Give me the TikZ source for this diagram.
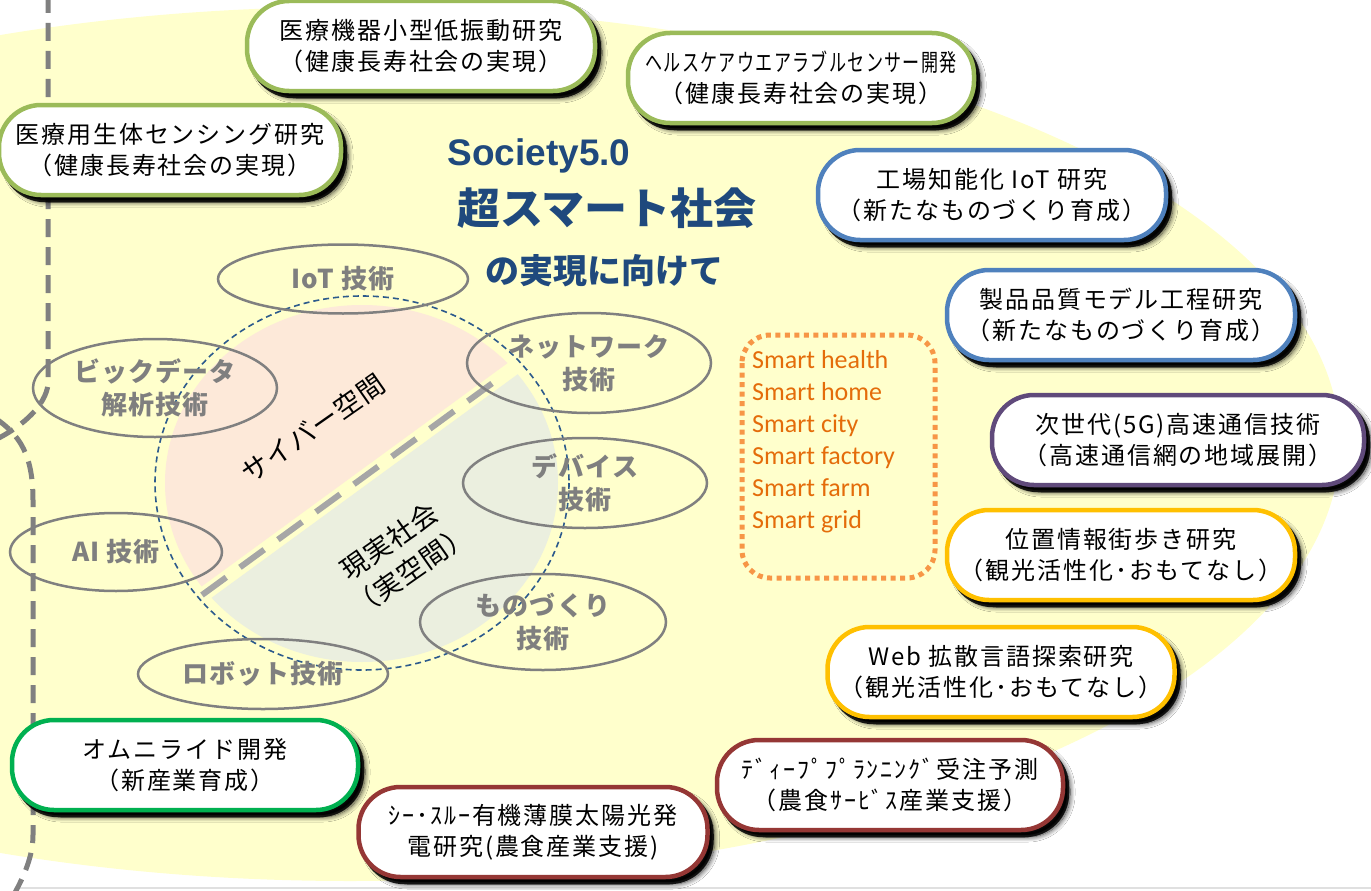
\documentclass[tikz,border=0pt]{standalone}
\usepackage{fontspec}
\setmainfont{Noto Sans CJK JP}
\newfontfamily\jp{Noto Sans CJK JP}
\newfontfamily\jpsp{Noto Sans CJK JP}[LetterSpace=8]
\newfontfamily\jptech{Noto Sans CJK JP}[LetterSpace=4]
\newfontfamily\calib{Carlito}
\newfontfamily\lat{Liberation Sans}
\usetikzlibrary{shapes.geometric,shadows.blur}
\definecolor{bgyellow}{HTML}{FFFFCC}
\definecolor{cgreen}{HTML}{9BBB59}
\definecolor{cblue}{HTML}{4F81BD}
\definecolor{cpurple}{HTML}{604A7B}
\definecolor{cgold}{HTML}{FFC000}
\definecolor{cred}{HTML}{953735}
\definecolor{cgreen2}{HTML}{00B050}
\definecolor{cnavy}{HTML}{1F497D}
\definecolor{corange}{HTML}{F79646}
\definecolor{corangetext}{HTML}{E46C0A}
\definecolor{cpink}{HTML}{FDE9D9}
\definecolor{cgreengray}{HTML}{EBEFDF}
\definecolor{cgray}{HTML}{808080}
\definecolor{ctechtext}{HTML}{7F7F7F}
\definecolor{cdiag}{HTML}{A6A6A6}
\definecolor{ccircle}{HTML}{2C5A8C}
\newcommand\boxfont{\jpsp\fontsize{24}{31}\selectfont}
\begin{document}
\begin{tikzpicture}[x=1pt,y=-1pt,
  pill/.style={draw=#1, line width=4.5pt, fill=white, rounded corners=42pt,
    minimum height=90pt, inner sep=0pt, align=center, font=\boxfont, text=black,
    blur shadow={shadow xshift=7pt,shadow yshift=-7pt,shadow blur radius=5pt,shadow opacity=80,shadow blur steps=12},
    preaction={draw=black, fill=black, line width=4.5pt, opacity=0.85, transform canvas={xshift=4pt,yshift=-5pt}}},
  tech/.style={ellipse, draw=cgray, line width=2.5pt, inner sep=0pt, align=center,
    text=ctechtext, font=\jptech\bfseries\fontsize{26}{33}\selectfont},
  leftdash/.style={cgray, line width=5pt, dash pattern=on 18pt off 10pt},
  title/.style={text=cnavy, inner sep=0pt}]
\useasboundingbox (0,0) rectangle (1371,891);
% background
\fill[white] (0,0) rectangle (1371,891);
\fill[bgyellow] (350,444) ellipse [x radius=990, y radius=437];
\draw[black!12, line width=1.5pt] (20,888) -- (1371,888);
% left dashed lines
\draw[leftdash] (48,-5) -- (48,385) .. controls (45,405) and (25,425) .. (-5,440);
\draw[leftdash] (-5,418) .. controls (20,435) and (33,455) .. (33,500) -- (33,835) .. controls (33,855) and (25,875) .. (12,898);
% central circle halves
\begin{scope}
  \clip (-125,825) -- (824,132) -- (471,-353) -- (-478,340) -- cycle;
  \fill[cpink] (362,483) ellipse [x radius=197, y radius=178];
\end{scope}
\begin{scope}
  \clip (-116,837) -- (833,144) -- (1186,629) -- (237,1322) -- cycle;
  \fill[cgreengray] (362,483) ellipse [x radius=196, y radius=179];
\end{scope}
\draw[ccircle, line width=1.6pt, dash pattern=on 6pt off 4pt] (362,483) ellipse [x radius=207, y radius=187];
\coordinate (d1) at (202,595);
\coordinate (d2) at (505,374);
\draw[cdiag, line width=6pt, dash pattern=on 30pt off 17pt] (d1) -- (d2);
\node[rotate=35, font=\jptech\fontsize{27}{34}\selectfont, text=black] (cyber) at (313,428) {サイバー空間};
\node[rotate=35, align=center, font=\jptech\fontsize{27}{36}\selectfont, text=black] (real) at (400,556) {現実社会\\（実空間）};
% technology ellipses
\node[tech, minimum width=250pt, minimum height=69pt] (iot) at (343,279) {IoT 技術};
\node[tech, minimum width=244pt, minimum height=98pt] (big) at (155,388) {ビックデータ\\解析技術};
\node[tech, minimum width=244pt, minimum height=100pt] (net) at (589,363) {ネットワーク\\技術};
\node[tech, minimum width=244pt, minimum height=90pt] (dev) at (585,483) {デバイス\\技術};
\node[tech, minimum width=212pt, minimum height=78pt] (ai) at (116,552) {AI 技術};
\node[tech, minimum width=246pt, minimum height=96pt] (mono) at (543,622) {ものづくり\\技術};
\node[tech, minimum width=250pt, minimum height=70pt] (robot) at (263,674) {ロボット技術};
% title
\node[title, anchor=base, font=\lat\bfseries\fontsize{37}{37}\selectfont] (soc) at (539,165) {Society5.0};
\node[title, font=\jp\bfseries\fontsize{43}{43}\selectfont] (chou) at (607,208) {超スマート社会};
\node[title, font=\jp\bfseries\fontsize{34}{34}\selectfont] (muke) at (604,271) {の実現に向けて};
% smart box
\draw[corange, line width=5pt, dash pattern=on 5pt off 4.5pt, rounded corners=28pt] (742,335) rectangle (935,578);
\node[anchor=north west, align=left, inner sep=0pt, text=corangetext, font=\calib\fontsize{26}{32}\selectfont] (smart) at (752,350)
  {Smart health\\Smart home\\Smart city\\Smart factory\\Smart farm\\Smart grid};
% project boxes
\node[pill=cgreen, minimum width=348pt] (b1) at (421,46) {医療機器小型低振動研究\\（健康長寿社会の実現）};
\node[pill=cgreen, minimum width=346pt] (b2) at (801,78) {\scalebox{0.71}[1]{ヘルスケアウエアラブルセンサー開発}\\（健康長寿社会の実現）};
\node[pill=cgreen, minimum width=342pt] (b3) at (170,150) {医療用生体センシング研究\\（健康長寿社会の実現）};
\node[pill=cblue, minimum width=348pt] (b4) at (992,195) {工場知能化 IoT 研究\\（新たなものづくり育成）};
\node[pill=cblue, minimum width=348pt] (b5) at (1121,315) {製品品質モデル工程研究\\（新たなものづくり育成）};
\node[pill=cpurple, minimum width=372pt] (b6) at (1178,440) {次世代(5G)高速通信技術\\（高速通信網の地域展開）};
\node[pill=cgold, minimum width=348pt] (b7) at (1121,555) {位置情報街歩き研究\\（観光活性化･おもてなし）};
\node[pill=cgold, minimum width=347pt] (b8) at (1001,672) {Web 拡散言語探索研究\\（観光活性化･おもてなし）};
\node[pill=cred, minimum width=346pt] (b9) at (890,785) {ﾃﾞｨｰﾌﾟﾌﾟﾗﾝﾆﾝｸﾞ受注予測\\（農食ｻｰﾋﾞｽ産業支援）};
\node[pill=cred, minimum width=349pt] (b10) at (533,832) {ｼｰ･ｽﾙｰ有機薄膜太陽光発\\電研究(農食産業支援)};
\node[pill=cgreen2, minimum width=346pt] (b11) at (185,765) {オムニライド開発\\（新産業育成）};
\end{tikzpicture}
\end{document}
